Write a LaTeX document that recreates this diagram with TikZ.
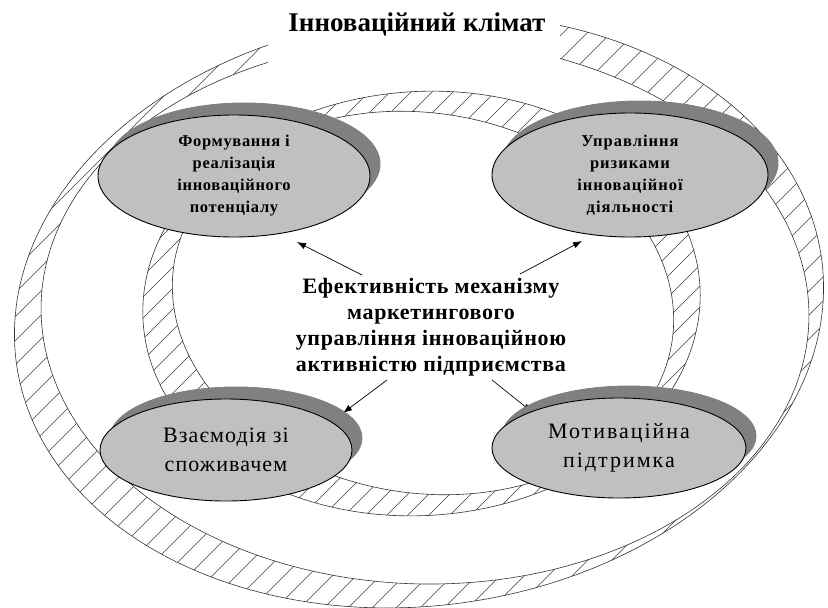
\documentclass[tikz,border=0pt]{standalone}
\usepackage{fontspec}
\setmainfont{Liberation Serif}
\usetikzlibrary{shapes.geometric,shadows,arrows.meta,calc}
\definecolor{ellfill}{HTML}{C0C0C0}
\definecolor{shd}{HTML}{808080}
% rotated ellipse: centre x, centre y, a, b, angle (clockwise on the page)
\newcommand\elpath[5]{plot[domain=0:360,samples=241,variable=\t] ({#1+#3*cos(\t)*cos(#5)-#4*sin(\t)*sin(#5)},{#2+#3*cos(\t)*sin(#5)+#4*sin(\t)*cos(#5)}) -- cycle}
\newcommand\ringOO{\elpath{419}{311}{406}{295}{-7}}
\newcommand\ringOI{\elpath{425}{312}{384}{272}{1}}
\newcommand\ringIO{\elpath{421.5}{303.5}{279}{212}{-4}}
\newcommand\ringII{\elpath{423}{303}{252}{190}{9}}
\tikzset{
  ringline/.style={line width=0.6pt,draw=black!80},
  hatchline/.style={line width=0.5pt,draw=black!75},
  bubble/.style={ellipse,draw=black,line width=0.9pt,fill=ellfill,inner sep=0pt,align=center,
    general shadow={fill=shd,draw=shd,shadow xshift=10pt,shadow yshift=12pt}},
  arr/.style={line width=0.7pt,-{Latex[length=9pt,width=6.5pt]}},
}
\begin{document}
\begin{tikzpicture}[x=1pt,y=-1pt]
\useasboundingbox (0,0) rectangle (828,608);
% outer ring
\begin{scope}[even odd rule]
\clip \ringOO \ringOI;
\foreach \k in {0,...,62} \draw[hatchline] ({\k*24-600},620) -- ++(640,-640);
\end{scope}
\draw[ringline] \ringOO;
\draw[ringline] \ringOI;
% inner ring
\begin{scope}[even odd rule]
\clip \ringIO \ringII;
\foreach \k in {0,...,70} \draw[hatchline] ({\k*21-600},620) -- ++(640,-640);
\end{scope}
\draw[ringline] \ringIO;
\draw[ringline] \ringII;
% title gap
\fill[white] (268,0) rectangle (560,88);
\node[font=\fontsize{27}{30}\selectfont\bfseries] (title) at (417,24) {Інноваційний клімат};
% arrows
\coordinate (s1) at (362,275);
\coordinate (s2) at (520,274);
\coordinate (s3) at (387,380);
\coordinate (s4) at (492,380);
\coordinate (e1) at (297,242);
\coordinate (e2) at (582,241);
\coordinate (e3) at (343,413);
\coordinate (e4) at (532,412);
\draw[arr] (s1) -- (e1);
\draw[arr] (s2) -- (e2);
\draw[arr] (s3) -- (e3);
\draw[arr] (s4) -- (e4);
% bubbles
\node[bubble,minimum width=272,minimum height=122,font=\fontsize{16.5}{22}\selectfont\bfseries\addfontfeature{LetterSpace=4}] (tl) at (234,176)
  {Формування і\\реалізація\\інноваційного\\потенціалу};
\node[bubble,minimum width=276,minimum height=124,font=\fontsize{16.5}{22}\selectfont\bfseries\addfontfeature{LetterSpace=6}] (tr) at (630,175)
  {Управління\\ризиками\\інноваційної\\діяльності};
\node[bubble,minimum width=252,minimum height=102,font=\fontsize{22}{29}\selectfont\addfontfeature{LetterSpace=5}] (bl) at (226,450)
  {Взаємодія зі\\споживачем};
\node[bubble,minimum width=254,minimum height=100,font=\fontsize{22}{29}\selectfont\addfontfeature{LetterSpace=9}] (br) at (619,448)
  {Мотиваційна\\підтримка};
% centre
\node[align=center,font=\fontsize{22}{26}\selectfont\bfseries\addfontfeature{LetterSpace=3}] (ctr) at (431,327)
  {Ефективність механізму\\маркетингового\\управління інноваційною\\активністю підприємства};
\end{tikzpicture}
\end{document}
